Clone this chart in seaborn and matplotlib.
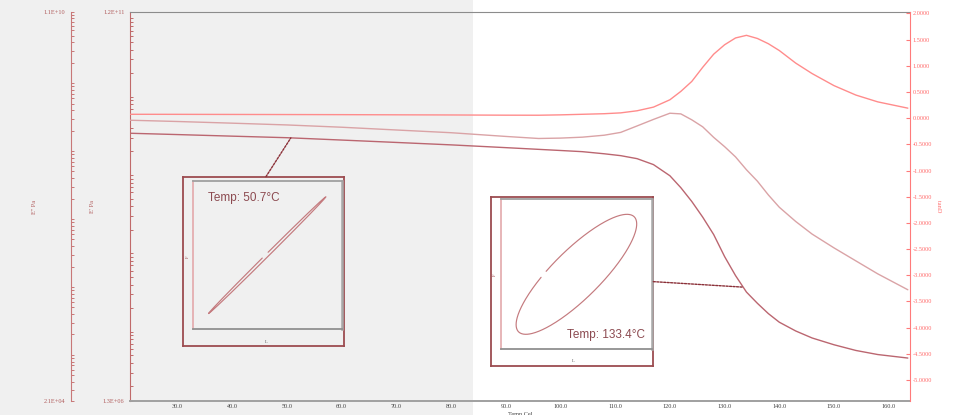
import numpy as np
import pandas as pd
import seaborn as sns
import matplotlib.pyplot as plt
from matplotlib.ticker import FixedLocator, FixedFormatter, LogLocator, NullFormatter, FormatStrFormatter
from matplotlib.patches import Rectangle, ConnectionPatch
from matplotlib.transforms import blended_transform_factory

# Data --------------------------------------------------
temp = [21.3, 30, 40, 50, 60, 70, 80, 90, 96, 100, 104, 108, 111, 114, 117, 120,
        122, 124, 126, 128, 130, 132, 134, 136, 138, 140, 143, 146, 150, 154, 158, 163.5]
storage = [3.42e9, 3.29e9, 3.14e9, 3.00e9, 2.80e9, 2.61e9, 2.43e9, 2.24e9, 2.13e9, 2.06e9,
           1.99e9, 1.87e9, 1.77e9, 1.62e9, 1.36e9, 9.8e8, 6.9e8, 4.6e8, 2.9e8, 1.74e8,
           9.1e7, 5.2e7, 3.2e7, 2.3e7, 1.7e7, 1.32e7, 1.02e7, 8.3e6, 6.8e6, 5.75e6, 5.1e6, 4.6e6]
loss = [2.84e8, 2.72e8, 2.57e8, 2.42e8, 2.24e8, 2.04e8, 1.86e8, 1.64e8, 1.53e8, 1.55e8,
        1.60e8, 1.71e8, 1.88e8, 2.34e8, 2.92e8, 3.60e8, 3.52e8, 2.88e8, 2.27e8, 1.59e8,
        1.16e8, 8.2e7, 5.3e7, 3.6e7, 2.26e7, 1.49e7, 9.2e6, 6.0e6, 3.76e6, 2.42e6, 1.56e6, 9.1e5]
tand = [0.073, 0.072, 0.070, 0.068, 0.066, 0.063, 0.060, 0.056, 0.055, 0.062,
        0.073, 0.084, 0.100, 0.140, 0.210, 0.350, 0.510, 0.700, 0.970, 1.220,
        1.400, 1.530, 1.580, 1.520, 1.420, 1.290, 1.050, 0.850, 0.620, 0.440, 0.310, 0.190]

# lissajous snapshots (temperature, phase lag in deg)
inset_temp = [50.7, 133.4]
inset_phase = [2.0, 33.0]

x_ticks = list(range(30, 161, 10))
tand_ticks = [-5.0, -4.5, -4.0, -3.5, -3.0, -2.5, -2.0, -1.5, -1.0, -0.5,
              0.0, 0.5, 1.0, 1.5, 2.0]
shade_to = 84.0
# --------------------------------------------------------

sns.set_style('white')
plt.rcParams['font.family'] = ['Liberation Serif', 'DejaVu Serif']
plt.rcParams['axes.unicode_minus'] = False

c_store = '#bb6670'
c_loss = '#daa3a6'
c_tand = '#ff8c8c'

df = pd.DataFrame({'temp': temp, 'storage': storage, 'loss': loss, 'tand': tand})

fig = plt.figure(figsize=(9.54, 4.15), dpi=100)
ax = fig.add_axes([0.1363, 0.0337, 0.8176, 0.9367])
ax.set_facecolor('none')
ax2 = ax.twinx()
ax3 = ax.twinx()
ax2.set_facecolor('none')
ax3.set_facecolor('none')

ax.set_yscale('log')
ax2.set_yscale('log')

sns.lineplot(data=df, x='temp', y='storage', ax=ax, color=c_store, lw=1.0)
sns.lineplot(data=df, x='temp', y='loss', ax=ax2, color=c_loss, lw=1.0)
sns.lineplot(data=df, x='temp', y='tand', ax=ax3, color=c_tand, lw=1.0)

ax.set_xlim(21.3, 163.9)
ax.set_ylim(1.3e6, 1.2e11)
ax2.set_ylim(2.1e4, 1.1e10)
ax3.set_ylim(-5.4, 2.02)

# grey band for the first part of the run, full figure height
shade = Rectangle((-1000, 0), 1000 + shade_to, 1,
                  transform=blended_transform_factory(ax.transData, fig.transFigure),
                  facecolor='#f0f0f0', edgecolor='none', zorder=-1)
fig.add_artist(shade)

# x axis
ax.set_xticks(x_ticks)
ax.xaxis.set_major_formatter(FormatStrFormatter('%.1f'))
ax.tick_params(axis='x', direction='in', length=3, width=0.8, colors='#808080',
               labelcolor='#404040', labelsize=4.5, pad=2)
ax.set_xlabel('Temp Cel', fontsize=4.5, color='#404040')
ax.xaxis.set_label_coords(0.5, -0.028)

# E' axis
ax.yaxis.set_major_locator(FixedLocator([1.3e6, 1.2e11]))
ax.yaxis.set_major_formatter(FixedFormatter(['1.3E+06', '1.2E+11']))
ax.yaxis.set_minor_locator(LogLocator(base=10, subs=np.arange(1, 10), numticks=30))
ax.yaxis.set_minor_formatter(NullFormatter())
ax.tick_params(axis='y', which='both', direction='in', length=2.5, width=0.7,
               colors='#c06a6a', labelcolor='#b05a5a', labelsize=4.5, pad=4)
ax.set_ylabel("E' Pa", fontsize=4.5, color='#b05a5a')
ax.yaxis.set_label_coords(-0.045, 0.5)
ax.spines['left'].set_color('#c06a6a')
ax.spines['top'].set_color('#8c8c8c')
ax.spines['bottom'].set_color('#a0a0a0')
ax.spines['bottom'].set_linewidth(1.4)
ax.spines['right'].set_visible(False)

# E'' axis, offset to the left
ax2.yaxis.set_ticks_position('left')
ax2.yaxis.set_label_position('left')
for s in ['right', 'top', 'bottom']:
    ax2.spines[s].set_visible(False)
ax2.spines['left'].set_visible(True)
ax2.spines['left'].set_position(('axes', -0.076))
ax2.spines['left'].set_color('#c87878')
ax2.yaxis.set_major_locator(FixedLocator([2.1e4, 1.1e10]))
ax2.yaxis.set_major_formatter(FixedFormatter(['2.1E+04', '1.1E+10']))
ax2.yaxis.set_minor_locator(LogLocator(base=10, subs=np.arange(1, 10), numticks=30))
ax2.yaxis.set_minor_formatter(NullFormatter())
ax2.tick_params(axis='y', which='both', direction='in', length=2.5, width=0.7,
                colors='#c87878', labelcolor='#b05a5a', labelsize=4.5, pad=4)
ax2.set_ylabel("E'' Pa", fontsize=4.5, color='#b05a5a')
ax2.yaxis.set_label_coords(-0.119, 0.5)

# tan delta axis
for s in ['left', 'top', 'bottom']:
    ax3.spines[s].set_visible(False)
ax3.spines['right'].set_color('#ff7a7a')
ax3.set_yticks(tand_ticks)
ax3.yaxis.set_major_formatter(FormatStrFormatter('%.4f'))
ax3.tick_params(axis='y', direction='in', length=3, width=0.8, colors='#ff7a7a',
                labelcolor='#ff6a6a', labelsize=4.5, pad=2)
ax3.set_ylabel('tanD', fontsize=4.5, color='#ff6a6a', rotation=270)
ax3.yaxis.set_label_coords(1.04, 0.5)

# lissajous insets -----------------------------------------
box_pos = [[0.1915, 0.1663, 0.1691, 0.408], [0.5147, 0.1181, 0.1701, 0.4065]]
in_pos = [[0.2020, 0.2065, 0.1562, 0.3573], [0.5252, 0.1583, 0.1580, 0.3614]]
lims = [1.27, 1.25]
txt_xy = [(0.10, 0.883, 'left'), (0.956, 0.095, 'right')]
f_xy = [(0.033, 0.53), (0.025, 0.54)]
l_xy = [(0.516, 0.025), (0.51, 0.03)]
anchor = [(0.516, 1.0), (1.0, 0.5)]

log_store = np.log10(storage)
for i in range(2):
    box = fig.add_axes(box_pos[i])
    box.set_facecolor('none')
    box.set_xticks([])
    box.set_yticks([])
    for s in box.spines.values():
        s.set_color('#9c4c50')
        s.set_linewidth(1.3)
    box.text(f_xy[i][0], f_xy[i][1], 'F', transform=box.transAxes, fontsize=3.5,
             rotation=90, ha='center', va='center', color='#9c4c50')
    box.text(l_xy[i][0], l_xy[i][1], 'L', transform=box.transAxes, fontsize=3.5,
             ha='center', va='center', color='#606060')

    ins = fig.add_axes(in_pos[i])
    ins.set_facecolor('none')
    ins.set_xticks([])
    ins.set_yticks([])
    ins.spines['left'].set_color('#e3a9ab')
    ins.spines['left'].set_linewidth(1.2)
    ins.spines['top'].set_color('#a0a0a0')
    ins.spines['top'].set_linewidth(1.3)
    ins.spines['right'].set_color('#a8a8a8')
    ins.spines['right'].set_linewidth(1.8)
    ins.spines['bottom'].set_color('#909090')
    ins.spines['bottom'].set_linewidth(1.3)

    d = np.deg2rad(inset_phase[i])
    t = np.linspace(-d + 0.05, -d + 2 * np.pi - 0.05, 400)
    sns.lineplot(x=np.sin(t), y=np.sin(t + d), sort=False, estimator=None,
                 ax=ins, color='#c47a7e', lw=0.85)
    ins.set_xlim(-lims[i], lims[i])
    ins.set_ylim(-lims[i], lims[i])
    ins.text(txt_xy[i][0], txt_xy[i][1], f'Temp: {inset_temp[i]}°C', transform=ins.transAxes,
             fontsize=8.5, color='#8c4a50', family='Liberation Sans',
             ha=txt_xy[i][2], va='center')

    yv = 10 ** np.interp(inset_temp[i], temp, log_store)
    con = ConnectionPatch(xyA=anchor[i], coordsA=box.transAxes,
                          xyB=(inset_temp[i], yv), coordsB=ax.transData,
                          linestyle=(0, (1.5, 1)), color='#8b3038', lw=1.0)
    fig.add_artist(con)

plt.savefig('out.png', dpi=100)
